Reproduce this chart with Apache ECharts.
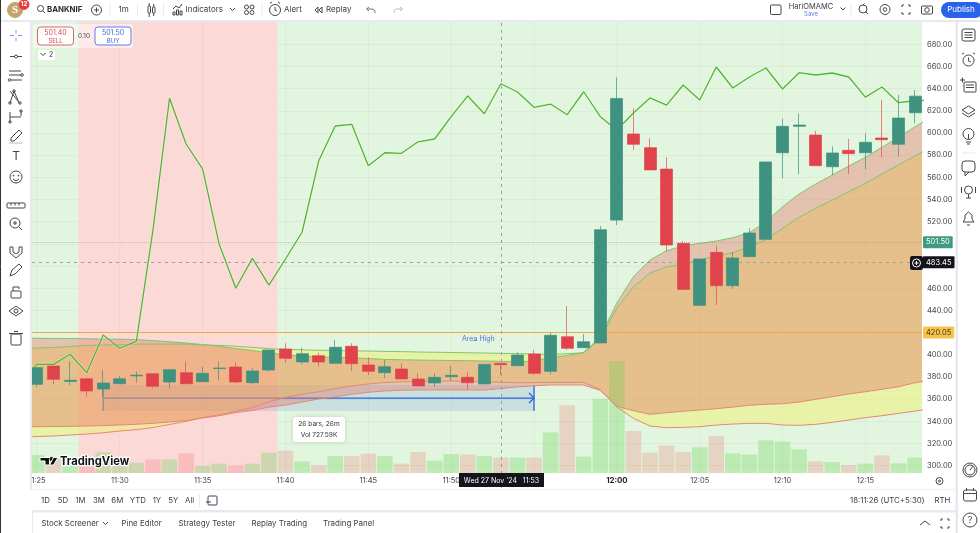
<!DOCTYPE html>
<html>
<head>
<meta charset="utf-8">
<style>html,body{margin:0;padding:0;background:#fff}#chart{width:980px;height:533px}</style>
<script src="https://cdn.jsdelivr.net/npm/echarts@6/dist/echarts.min.js"></script>
</head>
<body>
<div id="chart"></div>
<script>
// 1 minute bars, 27 Nov 2024. Lines and clouds start one bar earlier (11:24) so they run off the left edge.
const lineMinutes = Array.from({ length: 56 }, (_, i) => new Date(2024, 10, 27, 11, 24 + i).getTime());
const barMinutes = lineMinutes.slice(1, 55);
const tickMinutes = barMinutes.filter(t => new Date(t).getMinutes() % 5 === 0);

const candleOpen = [373.4,389.9,376,378.4,369.2,373.9,381,383,375.5,383.9,375.7,387.6,389,374.9,386.3,405.2,393.5,399.2,392.3,407.7,390.8,383.9,387.2,378.2,374.6,380.3,379.7,373.7,392.3,390.2,400.7,385.1,416.3,406.4,410.7,521.5,599.1,586.8,567.5,500.5,444.6,492.4,462.3,488.5,504.1,582.2,606,598.2,569.6,584.4,582.2,595.5,589.8,618.3];
const candleClose = [388.4,377.9,377,367.4,374.6,378.4,381.6,371.6,386.6,373.9,383.3,388.1,375.5,385.4,404.3,396.8,401,393.5,406.8,392,385.1,389.3,378.2,371.9,379.7,381.5,374.8,391.4,391.1,399.8,383.3,417.6,405.9,411.8,512.8,631.2,589.8,566.7,499,459,486.4,462.3,487.3,509.8,573.9,606,607.2,570.5,582,581.4,591.6,594,613.5,633.25];
const candleLow = [371.2,373.4,372.8,362.2,362,373.9,374.9,369.8,369.4,373.9,375.7,377.3,374.3,373.4,384.8,392.9,391.4,389.3,392.3,385.4,381.8,379.3,378.2,371.9,371.2,376.4,368.3,373.7,381.8,390.2,381.8,382.4,404.3,406.4,410.7,517,584.7,566.7,493,459,444.6,444.9,459.3,488.5,504.1,559.1,562.8,570.5,562.1,563,567.3,578.1,578.7,608.7];
const candleHigh = [388.4,389.9,394.1,379.1,386.3,380.9,384.8,383,386.6,393.8,389,393.8,392.9,387.8,404.3,410.4,406.4,401.9,413.3,410.4,397.7,395.3,392.3,383.3,383.3,390.2,384.2,391.4,392.3,402.2,404.3,419.9,444,418.8,516.1,650.2,622.3,595.2,578.1,502.6,486.4,498.4,492.7,514.1,573.9,612.9,617.7,602,588,594.6,599.7,629.8,634.3,638.8];
const volumes = [25.2,22.4,20.6,22.4,28.9,17.8,14.5,18.7,19.1,27.5,10.3,13.1,10.7,13.1,28.5,31.3,16.3,10.7,23.8,23.8,27.1,23.8,13.1,29.4,17.3,26.6,25.7,23.8,21.5,21.5,21.5,56.9,94.7,22.9,104.1,156.8,58.8,28.5,38.7,29.4,35.9,51.8,27.5,25.7,45.7,43.9,33.1,16.3,15.4,11.2,13.1,24.7,13.5,21.5];

const greenLine = [373.7,391.4,391.4,400.5,383.9,417.9,405.9,412.4,512.5,631.3,590.1,567.5,499.6,460,487,462.9,486.4,510.5,574.7,606.3,607.8,570.5,582.2,581.7,592.1,594.6,614.7,633.4,617.4,644.4,637,623.2,626.1,616.5,637.2,614.7,602.7,618,631.6,625.2,643.3,629.8,659.5,640.6,650.5,658.6,639.7,654.4,652.3,654.1,650.5,632.4,641.5,627.3,629.1,629.8];
// upper cloud, its two edges cross twice
const upperFast = [415,414.9,414.8,414.7,414.5,414.2,414.1,413.7,412.8,411.8,410.6,409.3,407.6,405.7,403.9,401.8,400,398.7,398,397.7,397.3,396.7,395.9,395.5,395.3,395.1,394.9,394.7,394.4,394.1,393.9,394.4,397.6,399.4,402.2,416,446.7,470.4,485.5,493.9,498.1,500.5,502.6,505.6,510.1,520,533.5,545,554,562.1,570.2,578.1,587.1,596.1,605.7,614.4];
const upperSlow = [405.4,406.1,406.6,407.5,408.5,408.8,409.1,409.6,409.7,409.7,409.6,408.9,408.5,407.7,406.7,405.5,405,404.5,404.1,403.9,403.6,403.4,403.1,402.9,402.5,402.3,402.1,401.8,401.6,401.3,401,400.7,400.3,401,401.8,414.2,442.2,461.4,473.8,479.2,481.9,485.5,489.1,492.1,497.5,504.1,514.1,524,532.1,539.6,547.1,554.6,563,571.1,579.3,587.4];
// lower cloud
const lowerFast = [325.6,326.3,326.8,327.7,328.6,329.7,331.3,332.5,334.4,337.2,339.9,343.4,345.9,348.9,352.5,357.7,361.7,364.4,366.7,369.4,371.9,373.7,375,375.7,375.9,376.2,376.4,376.1,375.7,375.2,374.8,374.9,375.1,375.2,375.2,368.7,352.9,342.7,335.8,334.3,334.6,335.2,336.7,337.6,338.2,338.2,336.7,336.4,337.3,339.1,341.2,343.3,345.1,347.2,349.3,351.6];
const lowerSlow = [334.9,335.2,335.3,335.5,335.8,336.2,336.7,337.4,338.2,339.4,340.8,343,345.1,347.9,349.8,352.9,354.7,357.4,360.1,362.2,364.4,366.2,367.4,368,368.3,368.3,368.3,368.3,368.3,369.6,371,372.1,372.8,372.8,372.8,367.8,353.8,349.6,346.3,347.8,349.1,350.2,351.4,352.9,354.5,355.4,355.9,357.4,359.9,362.2,364.7,366.7,368.9,371.2,374.8,377.3];

const askPrice = 501.5;
const areaHigh = 420.05;
const lastPrice = 633.25;
const crosshairPrice = 483.45;
const crosshairBar = 28;
const redSessionFrom = new Date(2024, 10, 27, 11, 27, 30).getTime();
const redSessionTo = new Date(2024, 10, 27, 11, 39, 30).getTime();
const measureFromBar = 4, measureToBar = 30;
const measureTop = 372.8, measureMid = 361, measureBottom = 349.3;

const xMin = new Date(2024, 10, 27, 11, 24, 42).getTime();
const xMax = new Date(2024, 10, 27, 12, 18, 25).getTime();

const ROSE = 'rgba(230,120,107,0.4)';
const YELLOW = 'rgba(240,241,114,0.5)';
const ORANGE = 'rgba(231,155,85,0.6)';
const FONT = 'Inter';

// one polygon per run where fast stays on the same side of slow
function cloudPolys(fast, slow) {
  const polys = [];
  let cur = null;
  for (let i = 0; i < fast.length; i++) {
    const up = fast[i] >= slow[i];
    if (cur && cur.up !== up) {
      const d0 = fast[i - 1] - slow[i - 1], d1 = fast[i] - slow[i];
      const f = d0 / (d0 - d1);
      const t = lineMinutes[i - 1] + (lineMinutes[i] - lineMinutes[i - 1]) * f;
      const v = fast[i - 1] + (fast[i] - fast[i - 1]) * f;
      cur.top.push([t, v]);
      polys.push(cur);
      cur = { up: up, top: [[t, v]], bottom: [] };
    }
    if (!cur) cur = { up: up, top: [], bottom: [] };
    cur.top.push([lineMinutes[i], fast[i]]);
    cur.bottom.push([lineMinutes[i], slow[i]]);
  }
  polys.push(cur);
  return polys.map(p => ({ color: p.up ? ROSE : YELLOW, points: p.top.concat(p.bottom.reverse()) }));
}

const orangeTop = [], orangeBottom = [];
lineMinutes.forEach((t, i) => {
  orangeTop.push([t, Math.min(upperFast[i], upperSlow[i])]);
  orangeBottom.push([t, Math.max(lowerFast[i], lowerSlow[i])]);
});
const allPolys = cloudPolys(upperFast, upperSlow)
  .concat(cloudPolys(lowerFast, lowerSlow))
  .concat([{ color: ORANGE, points: orangeTop.concat(orangeBottom.reverse()) }]);

function edgeLine(values, color) {
  return {
    type: 'line', xAxisIndex: 0, yAxisIndex: 0, z: 4, silent: true, showSymbol: false,
    data: lineMinutes.map((t, i) => [t, values[i]]),
    lineStyle: { color: color, width: 1 }
  };
}

function priceTag(value, text, bg, color, border, lineStyle) {
  return {
    yAxis: value,
    lineStyle: lineStyle,
    label: {
      show: true, position: 'end', distance: 1, formatter: text, color: color, fontSize: 7.5, fontFamily: FONT,
      backgroundColor: bg, borderColor: border, borderWidth: border ? 1 : 0, borderRadius: 1, padding: [2, 3, 2, 3]
    }
  };
}

// toolbar bits
const INK = '#45454d';
const chrome = [];
function box(x, y, w, h, r, fill, stroke, lw) {
  chrome.push({ type: 'rect', z: 50, silent: true, shape: { x, y, width: w, height: h, r: r || 0 },
    style: { fill: fill || 'none', stroke: stroke || 'none', lineWidth: lw || 1 } });
}
function seg(x1, y1, x2, y2, col, lw) {
  chrome.push({ type: 'line', z: 51, silent: true, shape: { x1, y1, x2, y2 }, style: { stroke: col || INK, lineWidth: lw || 1 } });
}
function ring(cx, cy, r, col, fill) {
  chrome.push({ type: 'circle', z: 51, silent: true, shape: { cx, cy, r }, style: { fill: fill || 'none', stroke: col || INK, lineWidth: 1 } });
}
function poly(points, col, fill) {
  chrome.push({ type: fill ? 'polygon' : 'polyline', z: 51, silent: true, shape: { points },
    style: { fill: fill || 'none', stroke: col || INK, lineWidth: 1 } });
}
function txt(x, y, s, size, col, weight, align, extra) {
  chrome.push({ type: 'text', z: 52, silent: true, x, y, style: Object.assign({
    text: s, fontSize: size, fontFamily: FONT, fontWeight: weight || 'normal', fill: col || '#3c3c44',
    textAlign: align || 'left', textVerticalAlign: 'middle' }, extra || {}) });
}
function chevron(x, y) { poly([[x - 2.5, y - 1.5], [x, y + 1], [x + 2.5, y - 1.5]]); }

// panels around the plot
box(0, 0, 980, 21, 0, '#fff');
box(0, 20, 980, 2, 0, '#e8e8f1');
box(0, 22, 31, 511, 0, '#fff');
box(30, 22, 2, 468, 0, '#e8e8f1');
box(955.5, 22, 2.5, 511, 0, '#e8e8f1');
box(32, 489, 924, 1, 0, '#efeff4');
box(32, 510, 924, 2.5, 0, '#e8e8f1');
box(32, 512.5, 1, 21, 0, '#e8e8f1');
seg(0.5, 0, 0.5, 533, '#333', 1);

// top bar
ring(15, 10, 7.5, '#c3a36a', '#c3a36a');
txt(15, 10.5, 'S', 11, '#fff', 'bold', 'center', { fontFamily: 'Liberation Serif' });
ring(24, 4.5, 5, '#e83c3c', '#e83c3c');
txt(24, 4.7, '12', 6, '#fff', 'bold', 'center');
ring(40.5, 8.5, 3);
seg(42.8, 10.8, 45, 13);
txt(47, 9.5, 'BANKNIF', 7.8, '#2b2b33', 'bold');
ring(96.5, 10, 5);
seg(94, 10, 99, 10); seg(96.5, 7.5, 96.5, 12.5);
seg(110, 3, 110, 16, '#ebebf0');
txt(118.5, 10, '1m', 8);
seg(137.5, 3, 137.5, 16, '#ebebf0');
box(148, 6, 2.5, 7, 0.5, 'none', INK); seg(149.2, 3, 149.2, 6); seg(149.2, 13, 149.2, 17);
box(152.5, 7, 2.5, 6, 0.5, 'none', INK); seg(153.7, 4, 153.7, 7); seg(153.7, 13, 153.7, 16);
seg(163.5, 3, 163.5, 16, '#ebebf0');
poly([[173, 9], [176, 6], [179, 8], [182, 4]]);
box(173, 12, 2, 3, 0, 'none', INK); box(176.5, 10, 2, 5, 0, 'none', INK); box(180, 11, 2, 4, 0, 'none', INK);
txt(185.5, 10, 'Indicators', 8);
chevron(232.5, 9.5);
ring(246.5, 7, 2); ring(252, 7, 2); ring(246.5, 12.5, 2); ring(252, 12.5, 2);
seg(262, 3, 262, 16, '#ebebf0');
ring(275, 10, 5.5);
seg(275, 7, 275, 10); seg(275, 10, 277, 11);
seg(270, 3.5, 272, 2); seg(280, 3.5, 278, 2);
txt(284, 10, 'Alert', 8);
poly([[318, 7], [315, 10], [318, 13], [318, 7]]);
poly([[322, 7], [319, 10], [322, 13], [322, 7]]);
txt(326, 10, 'Replay', 8);
poly([[369, 7], [366.5, 9], [369, 11]], '#777'); poly([[367, 9], [373, 9], [375, 11], [375, 13]], '#777');
poly([[400, 7], [402.5, 9], [400, 11]], '#bbb'); poly([[402, 9], [396, 9], [394, 11], [394, 13]], '#bbb');
box(770.5, 5, 10.5, 9.5, 1, 'none', INK);
txt(811, 7, 'HariOMAMC', 7.5, '#3c3c44', 'normal', 'center');
txt(811, 14.5, 'Save', 6, '#5d80e8', 'normal', 'center');
chevron(843, 9);
seg(851, 3, 851, 16, '#ebebf0');
ring(863, 9, 4); seg(865.5, 11.5, 868, 14); seg(863, 5, 864.5, 3.5);
ring(885, 9.5, 5); ring(885, 9.5, 1.8);
poly([[902, 7], [902, 5], [904, 5]]); poly([[908, 5], [910, 5], [910, 7]]); poly([[910, 12], [910, 14], [908, 14]]); poly([[904, 14], [902, 14], [902, 12]]);
box(921.5, 6, 11, 8, 1, 'none', INK); ring(927, 10, 2.3);
box(941, 2, 42, 16, 8, '#2b62ea');
txt(961, 10, 'Publish', 8, '#fff', 'normal', 'center');

// left bar
const lx = 16;
seg(10, 35.5, 14, 35.5, '#7e9be8'); seg(18, 35.5, 22, 35.5, '#7e9be8');
seg(16, 30, 16, 33.5, '#7e9be8'); seg(16, 37.5, 16, 41, '#7e9be8');
seg(10, 56.5, 22, 56.5); ring(lx, 56.5, 1.5, INK, '#fff');
seg(9, 71, 21, 71); seg(9, 75, 21, 75); seg(11, 80, 22, 80); ring(22, 75, 1.3); ring(9.5, 80, 1.3);
poly([[10, 103], [14, 91], [19, 103]]); poly([[10, 91], [18, 101]]); ring(10, 103, 1.2); ring(14, 91, 1.2); ring(20, 103, 1.2);
seg(10, 112, 10, 122); seg(10, 117, 21, 117); seg(21, 111, 21, 116); ring(21, 111, 1.2); ring(10, 122, 1.2);
poly([[11, 141], [11, 138], [19, 130], [22, 133], [14, 141], [11, 141]]);
seg(9, 143, 22, 143, '#bbb');
txt(lx, 156.5, 'T', 12, INK, 'normal', 'center');
ring(lx, 177, 6); ring(13.5, 175.5, 0.5); ring(18.5, 175.5, 0.5); poly([[13, 179], [16, 181], [19, 179]]);
box(7, 203, 18, 5, 1, 'none', INK);
seg(11, 203, 11, 205.5); seg(15, 203, 15, 205.5); seg(19, 203, 19, 205.5);
ring(15, 223, 5); seg(19, 227, 22, 230); seg(13, 223, 17, 223); seg(15, 221, 15, 225);
poly([[10, 247], [10, 253], [16, 258], [22, 253], [22, 247], [19, 247], [19, 252], [16, 254], [13, 252], [13, 247], [10, 247]]);
poly([[10, 276], [12, 270], [19, 264], [22, 267], [15, 274], [10, 276]]);
box(11, 291, 10, 7, 1, 'none', INK); poly([[13, 291], [13, 287], [19, 287], [19, 289]]);
poly([[9, 311], [16, 306], [23, 311], [16, 316], [9, 311]]); ring(lx, 311, 2);
seg(9, 333.5, 23, 333.5, '#45454d');
box(11, 334, 10, 11, 1, 'none', INK); seg(14, 331.5, 18, 331.5);

// right bar
box(962, 29, 13, 12, 2, 'none', INK); seg(964.5, 32.5, 972.5, 32.5); seg(964.5, 35, 972.5, 35); seg(964.5, 37.5, 972.5, 37.5);
ring(968.5, 60.5, 5.5); seg(968.5, 57.5, 968.5, 61); seg(968.5, 61, 971, 62); seg(962, 54, 964, 53); seg(975, 54, 973, 53);
box(964, 82, 12, 10, 1, 'none', INK); seg(966, 85, 974, 85); seg(966, 87.5, 974, 87.5); seg(960, 80, 965, 80); seg(962.5, 77.5, 962.5, 82.5);
poly([[962, 110], [968.5, 106], [975, 110], [968.5, 114], [962, 110]]); poly([[962, 113], [968.5, 117], [975, 113]]);
ring(968.5, 134, 5.5); seg(966, 142, 971, 142); seg(967, 144, 970, 144); seg(968.5, 134, 968.5, 139);
seg(962, 153, 975, 153, '#e8e8f1');
box(962, 161, 13, 11, 3, 'none', INK); poly([[965, 172], [965, 176], [969, 172]]);
ring(968.5, 190, 4); seg(968.5, 194, 968.5, 198); seg(966, 198, 971, 198); seg(961.5, 187, 961.5, 193); seg(975.5, 187, 975.5, 193);
poly([[963, 222], [965, 219], [965, 215], [968.5, 212], [972, 215], [972, 219], [974, 222], [963, 222]]); seg(967, 225, 970, 225);
ring(970, 470, 7); ring(970, 470, 5); seg(970, 470, 973, 466);
box(963.5, 490, 13, 11, 2, 'none', INK); seg(963.5, 493.5, 976.5, 493.5); seg(966.5, 488, 966.5, 491); seg(973.5, 488, 973.5, 491);
ring(970, 520, 7);
txt(970, 520.5, '?', 9, INK, 'normal', 'center');

// range row and status
const rangeNames = ['1D', '5D', '1M', '3M', '6M', 'YTD', '1Y', '5Y', 'All'];
const rangeX = [41, 57.7, 75.3, 93, 111.3, 129.7, 152.7, 168.3, 185];
rangeNames.forEach((s, i) => txt(rangeX[i], 500.5, s, 7.8));
seg(199.5, 494, 199.5, 507, '#e8e8f1');
box(208, 496, 9, 9, 1, 'none', INK); seg(206, 502, 211, 502);
txt(850, 500.5, '18:11:26 (UTC+5:30)', 7.8);
txt(934.5, 500.5, 'RTH', 7.8);
ring(939.5, 481, 3.5); ring(939.5, 481, 1);

// bottom tabs
const tabNames = ['Stock Screener', 'Pine Editor', 'Strategy Tester', 'Replay Trading', 'Trading Panel'];
const tabX = [41.5, 121.5, 178.5, 251.5, 323];
tabNames.forEach((s, i) => txt(tabX[i], 523.5, s, 7.9));
chevron(105.5, 523.5);
poly([[920, 525], [925, 521], [930, 525]]);
poly([[941, 521], [941, 519], [943, 519]]); poly([[947, 519], [949, 519], [949, 521]]);
poly([[949, 526], [949, 528], [947, 528]]); poly([[943, 528], [941, 528], [941, 526]]);

// sell / buy widget
box(33, 24, 100, 24, 2, 'rgba(255,255,255,0.45)');
box(37.5, 27, 36, 18, 3, '#fff', '#d9676b');
txt(55.5, 33, '501.40', 7, '#d9474d', 'normal', 'center');
txt(55.5, 41, 'SELL', 6, '#d9474d', 'normal', 'center');
txt(84, 36, '0.10', 6.5, '#444', 'normal', 'center');
box(95, 27, 36, 18, 3, '#fff', '#5b80e8');
txt(113, 33, '501.50', 7, '#3f68dc', 'normal', 'center');
txt(113, 41, 'BUY', 6, '#3f68dc', 'normal', 'center');
box(38, 50, 17, 10, 1, '#fff');
chevron(43, 54.5);
txt(49, 55, '2', 7);

txt(462, 338.5, 'Area High', 7, '#4a74e0');

// measure readout
chrome.push({ type: 'rect', z: 50, silent: true, shape: { x: 293, y: 417, width: 52, height: 25, r: 3 },
  style: { fill: '#fff', shadowBlur: 4, shadowColor: 'rgba(0,0,0,0.15)' } });
txt(319, 423.7, '26 bars, 26m', 6.6, '#333', 'normal', 'center');
txt(319, 435, 'Vol 727.59K', 6.6, '#333', 'normal', 'center');

// logo
poly([[40, 457.5], [49.5, 457.5], [49.5, 465], [45, 465], [45, 461], [40, 461], [40, 457.5]], '#fff', '#111');
ring(51.5, 459, 1.6, '#111', '#111');
poly([[53.5, 457.5], [58, 457.5], [53.5, 465], [49.5, 465], [53.5, 457.5]], '#fff', '#111');
txt(60, 461.5, 'TradingView', 11.2, '#131313', 'bold', 'left', { stroke: '#fff', lineWidth: 2.5 });

// crosshair tags
box(459, 473, 85, 14, 0, '#14141c');
txt(501.5, 480.5, "Wed 27 Nov '24   11:53", 7, '#fff', 'normal', 'center');
box(910, 256, 13, 14, 2, '#14141c');
ring(916.5, 263, 4, '#fff');
seg(914.5, 263, 918.5, 263, '#fff'); seg(916.5, 261, 916.5, 265, '#fff');

const chart = echarts.init(document.getElementById('chart'), null, { renderer: 'canvas' });

chart.setOption({
  animation: false,
  backgroundColor: '#fff',
  textStyle: { fontFamily: FONT },
  grid: [
    { left: 32, right: 58, top: 22.1, bottom: 45.1, show: false },
    { left: 32, right: 58, top: 22, bottom: 60, show: true, backgroundColor: '#e2f5de', borderWidth: 0, z: 0 }
  ],
  xAxis: [
    { type: 'time', gridIndex: 0, min: xMin, max: xMax, show: false, splitLine: { show: false } },
    {
      // labels and grid lines every 5 bars come from the timeTicks series, the automatic time ticks skip some
      type: 'time', gridIndex: 1, min: xMin, max: xMax, z: 1,
      axisLine: { show: false }, axisTick: { show: false }, axisLabel: { show: false }, splitLine: { show: false }
    }
  ],
  yAxis: [
    {
      type: 'value', gridIndex: 0, min: 280, max: 700, interval: 20, position: 'right', z: 1,
      axisLine: { show: false }, axisTick: { show: false },
      splitLine: { show: true, showMinLine: false, showMaxLine: false, lineStyle: { color: 'rgba(0,0,0,0.035)', width: 1 } },
      axisLabel: {
        color: '#444', fontSize: 7.5, fontFamily: FONT, margin: 5, showMinLabel: false, showMaxLabel: false,
        formatter: v => v.toFixed(2)
      }
    },
    { type: 'value', gridIndex: 1, min: 0, max: 631.4, show: false, splitLine: { show: false } }
  ],
  graphic: { elements: chrome },
  series: [
    {
      // red session behind everything
      name: 'session', type: 'line', xAxisIndex: 1, yAxisIndex: 1, data: [], z: 0, silent: true,
      markArea: { silent: true, itemStyle: { color: '#fbd9d7' }, data: [[{ xAxis: redSessionFrom }, { xAxis: redSessionTo }]] }
    },
    {
      name: 'timeTicks', type: 'custom', xAxisIndex: 1, yAxisIndex: 1, z: 1, silent: true, clip: false,
      encode: { x: 0 },
      data: tickMinutes.map(t => [t, 0]),
      renderItem: function (params, api) {
        const t = api.value(0);
        const d = new Date(t);
        const noon = d.getHours() === 12 && d.getMinutes() === 0;
        const base = api.coord([t, 0]);
        const top = api.coord([t, 631.4]);
        return {
          type: 'group',
          children: [
            { type: 'line', shape: { x1: base[0], y1: top[1], x2: base[0], y2: base[1] }, style: { stroke: 'rgba(0,0,0,0.035)', lineWidth: 1 } },
            {
              type: 'text', x: base[0], y: base[1] + 8,
              style: {
                text: d.getHours() + ':' + String(d.getMinutes()).padStart(2, '0'),
                fill: noon ? '#222' : '#444', fontFamily: FONT, fontSize: noon ? 7.8 : 7.5, fontWeight: noon ? 'bold' : 'normal',
                textAlign: 'center', textVerticalAlign: 'middle'
              }
            }
          ]
        };
      }
    },
    {
      // date and price range tool, sits under the clouds
      name: 'measure', type: 'custom', xAxisIndex: 0, yAxisIndex: 0, z: 1, silent: true, clip: true,
      data: [[barMinutes[measureFromBar], measureMid]],
      renderItem: function (params, api) {
        const a = api.coord([barMinutes[measureFromBar], measureTop]);
        const b = api.coord([barMinutes[measureToBar], measureBottom]);
        const m = api.coord([barMinutes[measureToBar], measureMid]);
        const blue = { stroke: '#2962e0', lineWidth: 1.3, fill: 'none' };
        return {
          type: 'group',
          children: [
            { type: 'rect', shape: { x: a[0], y: a[1], width: b[0] - a[0], height: b[1] - a[1] }, style: { fill: 'rgba(60,110,220,0.15)' } },
            { type: 'line', shape: { x1: a[0], y1: m[1], x2: b[0], y2: m[1] }, style: blue },
            { type: 'line', shape: { x1: a[0], y1: a[1], x2: a[0], y2: b[1] }, style: blue },
            { type: 'line', shape: { x1: b[0], y1: a[1], x2: b[0], y2: b[1] }, style: blue },
            { type: 'polyline', shape: { points: [[b[0] - 5, m[1] - 5], [b[0], m[1]], [b[0] - 5, m[1] + 5]] }, style: blue }
          ]
        };
      }
    },
    {
      name: 'clouds', type: 'custom', xAxisIndex: 0, yAxisIndex: 0, z: 2, silent: true, clip: true,
      data: allPolys.map(() => [lineMinutes[0], 400]),
      renderItem: function (params, api) {
        const p = allPolys[params.dataIndex];
        return { type: 'polygon', shape: { points: p.points.map(q => api.coord(q)) }, style: { fill: p.color } };
      }
    },
    edgeLine(upperFast, '#80c46c'),
    edgeLine(upperSlow, '#80c46c'),
    edgeLine(lowerFast, '#e08a72'),
    edgeLine(lowerSlow, '#e08a72'),
    {
      // drawn as rects so the time axis keeps its exact min and max
      name: 'Volume', type: 'custom', xAxisIndex: 1, yAxisIndex: 1, z: 3, silent: true, clip: true,
      encode: { x: 0, y: 1 },
      data: barMinutes.map((t, i) => [t, volumes[i]]),
      renderItem: function (params, api) {
        const top = api.coord([api.value(0), api.value(1)]);
        const base = api.coord([api.value(0), 0]);
        const up = candleClose[params.dataIndex] >= candleOpen[params.dataIndex];
        return {
          type: 'rect',
          shape: { x: top[0] - 7.75, y: top[1], width: 15.5, height: base[1] - top[1] },
          style: { fill: up ? 'rgba(100,210,80,0.3)' : 'rgba(240,80,80,0.2)' }
        };
      }
    },
    {
      name: 'Line', type: 'line', xAxisIndex: 0, yAxisIndex: 0, z: 5, silent: true, showSymbol: false,
      data: lineMinutes.map((t, i) => [t, greenLine[i]]),
      lineStyle: { color: '#52b52e', width: 1.3, shadowColor: 'rgba(255,255,255,0.9)', shadowBlur: 1.5 }
    },
    {
      name: 'BANKNIFTY', type: 'candlestick', xAxisIndex: 0, yAxisIndex: 0, z: 6, silent: true, barWidth: 12.5,
      encode: { x: 0, y: [1, 2, 3, 4] },
      data: barMinutes.map((t, i) => [t, candleOpen[i], candleClose[i], candleLow[i], candleHigh[i]]),
      itemStyle: {
        color: '#3f9180', color0: '#e0434b',
        borderColor: 'rgba(63,145,128,0.7)', borderColor0: 'rgba(224,67,75,0.65)', borderWidth: 1
      },
      markLine: {
        silent: true, symbol: 'none', animation: false, precision: 2,
        data: [
          { xAxis: barMinutes[crosshairBar], lineStyle: { color: '#9a9a9a', type: [3, 4], width: 1 }, label: { show: false } },
          priceTag(areaHigh, '420.05', '#f7c34f', '#4a3a10', null, { color: '#f0a83a', type: 'solid', width: 1 }),
          priceTag(askPrice, '501.50', '#3f9a80', '#fff', null, { color: 'rgba(110,120,110,0.35)', type: 'dotted', width: 1 }),
          priceTag(crosshairPrice, '483.45', '#14141c', '#fff', null, { color: '#a0a0a0', type: [3, 4], width: 1 }),
          priceTag(lastPrice, '633.25', '#fff', '#63ab97', '#63ab97', { opacity: 0 })
        ]
      }
    }
  ]
});
</script>
</body>
</html>
